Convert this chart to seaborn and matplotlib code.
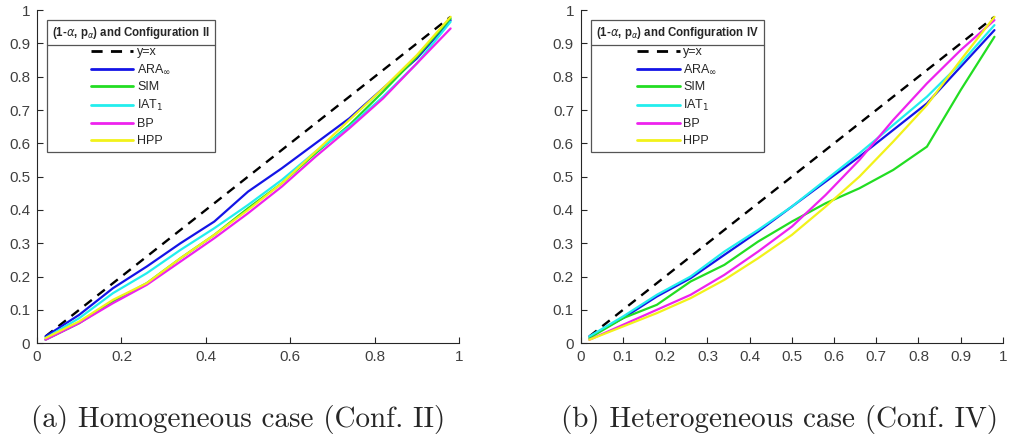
import numpy as np
import pandas as pd
import matplotlib
matplotlib.use("Agg")
import matplotlib.pyplot as plt
import seaborn as sns
from matplotlib.lines import Line2D

# nominal level grid (1 - alpha)
levels = [0.02, 0.10, 0.18, 0.26, 0.34, 0.42, 0.50, 0.58, 0.66, 0.74, 0.82, 0.90, 0.98]

# Configuration II (homogeneous)
ara_ii = [0.02, 0.085, 0.165, 0.23, 0.30, 0.365, 0.455, 0.525, 0.60, 0.675, 0.765, 0.855, 0.97]
sim_ii = [0.01, 0.06, 0.125, 0.18, 0.255, 0.325, 0.405, 0.48, 0.57, 0.655, 0.755, 0.86, 0.975]
iat_ii = [0.015, 0.075, 0.15, 0.21, 0.28, 0.345, 0.415, 0.49, 0.575, 0.65, 0.74, 0.84, 0.965]
bp_ii = [0.01, 0.06, 0.12, 0.175, 0.245, 0.315, 0.39, 0.47, 0.56, 0.645, 0.735, 0.84, 0.945]
hpp_ii = [0.015, 0.065, 0.13, 0.18, 0.255, 0.325, 0.40, 0.48, 0.575, 0.67, 0.765, 0.865, 0.98]

# Configuration IV (heterogeneous)
ara_iv = [0.02, 0.075, 0.14, 0.195, 0.265, 0.335, 0.41, 0.485, 0.56, 0.64, 0.72, 0.83, 0.94]
sim_iv = [0.015, 0.075, 0.115, 0.185, 0.235, 0.305, 0.365, 0.42, 0.465, 0.52, 0.59, 0.76, 0.92]
iat_iv = [0.02, 0.08, 0.145, 0.2, 0.275, 0.34, 0.41, 0.49, 0.57, 0.655, 0.74, 0.84, 0.955]
bp_iv = [0.01, 0.055, 0.10, 0.145, 0.205, 0.275, 0.35, 0.445, 0.55, 0.67, 0.78, 0.88, 0.97]
hpp_iv = [0.01, 0.05, 0.09, 0.135, 0.19, 0.255, 0.325, 0.41, 0.50, 0.605, 0.715, 0.85, 0.98]

methods = ["ARA$_\\infty$", "SIM", "IAT$_1$", "BP", "HPP"]
colors = ["#1414e6", "#22dd22", "#22eeee", "#ee22ee", "#f2f21a"]

sns.set_style("white")
plt.rcParams["font.family"] = ["Liberation Sans", "DejaVu Sans"]

fig = plt.figure(figsize=(10.12, 4.41), dpi=100)
ax1 = fig.add_axes([0.0366, 0.222, 0.417, 0.755])
ax2 = fig.add_axes([0.574, 0.222, 0.417, 0.755])


def draw_panel(ax, series, conf, xticks):
    df = pd.DataFrame({"x": levels * len(series),
                       "y": np.concatenate(series),
                       "method": np.repeat(methods, len(levels))})
    ax.plot([levels[0], levels[-1]], [levels[0], levels[-1]], color="black",
            lw=1.7, dashes=(4, 3), label="y=x")
    sns.lineplot(data=df, x="x", y="y", hue="method", palette=colors,
                 hue_order=methods, lw=1.6, ax=ax, legend=False)
    ax.set_xlim(0, 1)
    ax.set_ylim(0, 1)
    ax.set_xticks(xticks)
    ax.set_xticklabels([f"{t:g}" for t in xticks])
    ax.set_yticks(np.arange(0, 1.01, 0.1))
    ax.set_yticklabels([f"{t:g}" for t in np.arange(0, 1.01, 0.1).round(1)])
    ax.set_xlabel("")
    ax.set_ylabel("")
    for s in ["top", "right"]:
        ax.spines[s].set_visible(False)
    for s in ["left", "bottom"]:
        ax.spines[s].set_color("#262626")
        ax.spines[s].set_linewidth(0.8)
    ax.tick_params(direction="in", length=4, width=0.8, color="#262626",
                   labelsize=11, labelcolor="#404040", pad=5, left=True, bottom=True)
    handles = [Line2D([], [], color="black", lw=2, dashes=(4, 3))]
    handles += [Line2D([], [], color=c, lw=2) for c in colors]
    leg = ax.legend(handles, ["y=x"] + methods, loc="upper left",
                    bbox_to_anchor=(0.024, 0.97), borderaxespad=0, fontsize=9,
                    title=f"(1-$\\alpha$, p$_\\alpha$) and Configuration {conf}",
                    title_fontproperties={"weight": "bold", "size": 8.3},
                    fancybox=False, framealpha=1, edgecolor="#555555",
                    handlelength=3.4, handletextpad=0.3, labelspacing=0.4,
                    borderpad=0.4, alignment="center")
    leg.get_frame().set_linewidth(0.9)
    return leg


leg1 = draw_panel(ax1, [ara_ii, sim_ii, iat_ii, bp_ii, hpp_ii], "II",
                  [0, 0.2, 0.4, 0.6, 0.8, 1])
leg2 = draw_panel(ax2, [ara_iv, sim_iv, iat_iv, bp_iv, hpp_iv], "IV",
                  np.arange(0, 1.01, 0.1).round(1))

# separator under the legend titles
fig.canvas.draw()
inv = fig.transFigure.inverted()
for leg in [leg1, leg2]:
    fb = leg.get_frame().get_window_extent()
    tb = leg.get_title().get_window_extent()
    ysep = tb.y0 - 4
    (x0, y0), (x1, y1) = inv.transform([(fb.x0, ysep), (fb.x1, ysep)])
    fig.add_artist(Line2D([x0, x1], [y0, y1], color="#555555", lw=0.9))

fig.text(0.235, 0.048, "(a) Homogeneous case (Conf. II)", ha="center",
         va="center", family="cmr10", fontsize=21)
fig.text(0.77, 0.048, "(b) Heterogeneous case (Conf. IV)", ha="center",
         va="center", family="cmr10", fontsize=21)

fig.savefig("out.png", dpi=100)
